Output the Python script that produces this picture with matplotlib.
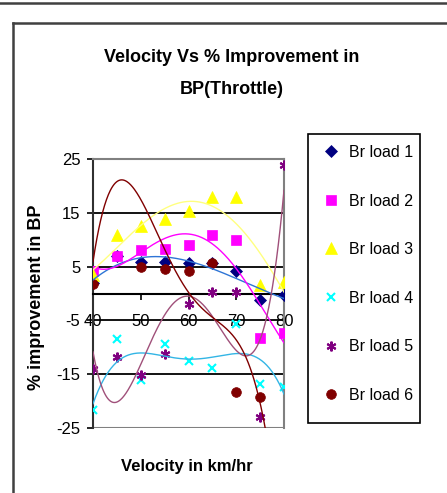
import numpy as np
import matplotlib.pyplot as plt
from matplotlib.lines import Line2D
from matplotlib.patches import Rectangle

# Data (velocity in km/hr vs % improvement in BP)
velocity = [40, 45, 50, 55, 60, 65, 70, 75, 80]
load1 = [1.9, 7.0, 5.9, 5.8, 5.7, 5.7, 4.1, -1.3, -0.2]
load2 = [4.1, 7.0, 8.0, 8.3, 9.0, 10.8, 9.9, -8.2, -7.3]
load3 = [3.4, 10.9, 12.5, 13.9, 15.3, 17.9, 17.9, 1.5, 2.1]
load4 = [-21.7, -8.5, -16.1, -9.3, -12.6, -13.9, -5.7, -16.9, -17.4]
load5 = [-14.1, -11.8, -15.1, -11.2, -1.9, 0.2, 0.2, -23.0, 23.8]
# points at 45 and 80 lie outside the visible range (estimated)
load6 = [1.7, 35.0, 5.0, 4.5, 4.2, 5.6, -18.3, -19.2, -52.0]

labels = ['Br load 1', 'Br load 2', 'Br load 3', 'Br load 4', 'Br load 5', 'Br load 6']

plt.rcParams['font.family'] = ['Liberation Sans', 'DejaVu Sans']

fig = plt.figure(figsize=(4.47, 4.93), dpi=100)
ax = fig.add_axes([93 / 447, 65 / 493, 191 / 447, 269 / 493])

series = [load1, load2, load3, load4, load5, load6]
marker_colors = ['#000080', '#FF00FF', '#FFFF00', '#00FFFF', '#800080', '#800000']
markers = ['D', 's', '^', 'x', (6, 2, 0), 'o']
sizes = [6, 7, 8, 6, 7, 7]
trend_colors = ['#2E75D6', '#FF00FF', '#FFFF80', '#33B5E5', '#A0507A', '#800000']

# gridlines
for g in [15, 5, -5, -15]:
    ax.axhline(g, color='black', lw=1.3, zorder=1)
ax.axhline(-25, color='#808080', lw=1.5, zorder=1)

# 4th order polynomial trendlines fitted to each series
xs = np.linspace(40, 80, 300)
handles = []
for vals, mc, mk, ms, tc, lab in zip(series, marker_colors, markers, sizes, trend_colors, labels):
    mew = 1.5 if mk in ('x', (6, 2, 0)) else 0.5
    h, = ax.plot(velocity, vals, linestyle='none', marker=mk, color=mc, markersize=ms,
                 markeredgecolor=mc, markeredgewidth=mew, zorder=3, label=lab)
    handles.append(h)
    coef = np.polyfit(velocity, vals, 4)
    ax.plot(xs, np.polyval(coef, xs), color=tc, lw=1.0, zorder=4)

ax.set_xlim(40, 80)
ax.set_ylim(-25, 25)
ax.set_xticks([40, 50, 60, 70, 80])
ax.set_yticks([-25, -15, -5, 5, 15, 25])
ax.set_yticklabels(['-25', '-15', '-5', '5', '15', '25'])

ax.spines['bottom'].set_position(('data', 0))
ax.spines['bottom'].set_color('black')
ax.spines['bottom'].set_linewidth(1.5)
ax.spines['left'].set_color('#303030')
ax.spines['left'].set_linewidth(1.5)
for s in ['top', 'right']:
    ax.spines[s].set_color('#808080')
    ax.spines[s].set_linewidth(1.5)

ax.tick_params(axis='y', direction='out', length=4, width=1.2, labelsize=12, pad=5)
ax.tick_params(axis='x', direction='out', length=4, width=1.2, labelsize=12, pad=11)

# titles and axis labels
fig.text(232 / 447, 1 - 57 / 493, 'Velocity Vs % Improvement in', ha='center', va='center',
         fontsize=13, fontweight='bold')
fig.text(232 / 447, 1 - 90 / 493, 'BP(Throttle)', ha='center', va='center',
         fontsize=13, fontweight='bold')
fig.text(187 / 447, 1 - 466 / 493, 'Velocity in km/hr', ha='center', va='center',
         fontsize=12, fontweight='bold')
fig.text(37 / 447, 1 - 297 / 493, '% improvement in BP', ha='center', va='center',
         rotation=90, fontsize=13, fontweight='bold')

# legend with a separate frame
fig.legend(handles=handles, loc='upper left', bbox_to_anchor=(323 / 447, 1 - 145 / 493),
           frameon=False, fontsize=11.5, labelspacing=2.1, borderpad=0,
           handlelength=1.0, handletextpad=0.6, borderaxespad=0)
fig.add_artist(Rectangle((308 / 447, 1 - 423 / 493), 112 / 447, 289 / 493,
                         transform=fig.transFigure, fill=False, edgecolor='black', lw=1.2))

# chart frame lines
fig.add_artist(Line2D([0, 1], [1 - 3 / 493, 1 - 3 / 493], color='#404040', lw=1.8))
fig.add_artist(Line2D([13 / 447, 1], [1 - 23 / 493, 1 - 23 / 493], color='#404040', lw=1.8))
fig.add_artist(Line2D([13 / 447, 13 / 447], [0, 1 - 23 / 493], color='#404040', lw=1.8))

fig.savefig('out.png', dpi=100)
